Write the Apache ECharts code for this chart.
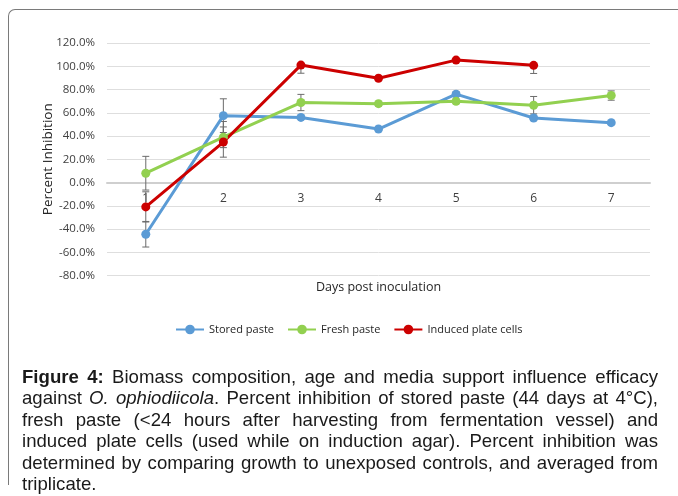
<!DOCTYPE html>
<html>
<head>
<meta charset="utf-8">
<script src="https://cdn.jsdelivr.net/npm/echarts@6/dist/echarts.min.js"></script>
<style>
html,body{margin:0;padding:0;background:#fff;}
#wrap{position:relative;width:678px;height:496px;overflow:hidden;}
#chart{position:absolute;left:0;top:0;width:678px;height:496px;}
#box{position:absolute;left:8px;top:9px;width:720px;height:475px;border-top:1px solid #7a7a7a;border-left:1px solid #7a7a7a;border-top-left-radius:7px;pointer-events:none;}
#cap{position:absolute;left:22px;top:366px;width:636px;font-family:"Liberation Sans",Arial,sans-serif;font-size:18.6px;line-height:21.4px;text-align:justify;color:#1a1a1a;}
</style>
</head>
<body>
<div id="wrap">
<div id="chart"></div>
<div id="box"></div>
<div id="cap"><b>Figure 4:</b> Biomass composition, age and media support influence efficacy against <i>O. ophiodiicola</i>. Percent inhibition of stored paste (44 days at 4°C), fresh paste (&lt;24 hours after harvesting from fermentation vessel) and induced plate cells (used while on induction agar). Percent inhibition was determined by comparing growth to unexposed controls, and averaged from triplicate.</div>
</div>
<script>
// ---- data ----
const categories = ['1','2','3','4','5','6','7'];
const storedPaste  = [-44.5, 57.5, 56.0, 46.0, 76.0, 55.5, 51.5];
const freshPaste   = [8.0, 39.0, 68.8, 67.8, 69.8, 66.5, 74.8];
const inducedCells = [-21.0, 34.8, 101.0, 89.7, 105.3, 100.8, null];
// error bars (plus / minus), percent points
const storedErrPlus   = [11, 14.5, 0, 0, 2, 2, 0];
const storedErrMinus  = [11, 14.5, 0, 0, 2, 2, 0];
const freshErrPlus    = [14.5, 13.5, 7, 2, 2, 7.5, 4];
const freshErrMinus   = [14.5, 9, 7, 2, 2, 7.5, 4];
const inducedErrPlus  = [13, 13, 0, 0, 0, 0, null];
const inducedErrMinus = [13, 13, 7, 0, 0, 7, null];
const yTicks = {min: -80, max: 120, interval: 20};
const seriesNames = ['Stored paste', 'Fresh paste', 'Induced plate cells'];

const colors = ['#5B9BD5', '#92D050', '#CC0000'];
const chart = echarts.init(document.getElementById('chart'), null, {renderer: 'canvas'});

const gridTop = 43, gridBottom = 220.5, H = 496;
const gridH = H - gridTop - gridBottom;
// place x axis at the zero line
const zeroOffset = -gridH * (0 - yTicks.min) / (yTicks.max - yTicks.min);

function errData(vals, plus, minus) {
  const out = [];
  vals.forEach((v, i) => {
    if (v == null) return;
    if (!plus[i] && !minus[i]) return;
    out.push([i, v - (minus[i] || 0), v + (plus[i] || 0), v]);
  });
  return out;
}
function errSeries(data) {
  return {
    type: 'custom',
    z: 1,
    silent: true,
    data: data,
    encode: {x: 0, y: [1, 2]},
    renderItem: function (params, api) {
      const x = api.value(0), lo = api.value(1), hi = api.value(2), mid = api.value(3);
      const pLo = api.coord([x, lo]);
      const pHi = api.coord([x, hi]);
      const hw = 3.5;
      const style = {stroke: '#6b6b6b', lineWidth: 1};
      const children = [
        {type: 'line', shape: {x1: pLo[0], y1: pLo[1], x2: pHi[0], y2: pHi[1]}, style: style}
      ];
      if (hi !== mid) children.push({type: 'line', shape: {x1: pHi[0]-hw, y1: pHi[1], x2: pHi[0]+hw, y2: pHi[1]}, style: style});
      if (lo !== mid) children.push({type: 'line', shape: {x1: pLo[0]-hw, y1: pLo[1], x2: pLo[0]+hw, y2: pLo[1]}, style: style});
      return {type: 'group', children: children};
    }
  };
}
function lineSeries(name, data, color) {
  return {
    name: name, type: 'line', data: data, z: 3,
    symbol: 'circle', symbolSize: 9,
    lineStyle: {width: 3, color: color},
    itemStyle: {color: color},
    emphasis: {disabled: true}
  };
}

const fontF = '"Open Sans", "Segoe UI", sans-serif';
chart.setOption({
  animation: false,
  color: colors,
  grid: {left: 107, right: 28, top: gridTop, bottom: gridBottom},
  legend: {
    data: seriesNames,
    left: 170, top: 319,
    itemWidth: 28, itemHeight: 12, itemGap: 13,
    textStyle: {fontFamily: fontF, fontSize: 11, color: '#262626'}
  },
  xAxis: {
    type: 'category', data: categories, boundaryGap: true,
    position: 'bottom', offset: zeroOffset,
    axisLine: {onZero: false, lineStyle: {color: '#cfcfcf', width: 2}},
    axisTick: {show: false},
    axisLabel: {fontFamily: fontF, fontSize: 12, color: '#404040', margin: 10},
    name: 'Days post inoculation', nameLocation: 'middle', nameGap: 98,
    nameTextStyle: {fontFamily: fontF, fontSize: 12.5, color: '#262626'}
  },
  yAxis: {
    type: 'value', min: yTicks.min, max: yTicks.max, interval: yTicks.interval,
    axisLine: {show: false}, axisTick: {show: false},
    splitLine: {lineStyle: {color: '#dedede', width: 1}},
    axisLabel: {fontFamily: fontF, fontSize: 11.5, color: '#404040', margin: 12,
      formatter: v => v.toFixed(1) + '%'},
    name: 'Percent Inhibition', nameLocation: 'middle', nameGap: 52, nameMoveOverlap: false,
    nameTextStyle: {fontFamily: fontF, fontSize: 13.5, color: '#262626'}
  },
  series: [
    errSeries(errData(storedPaste, storedErrPlus, storedErrMinus)),
    errSeries(errData(freshPaste, freshErrPlus, freshErrMinus)),
    errSeries(errData(inducedCells, inducedErrPlus, inducedErrMinus)),
    lineSeries(seriesNames[0], storedPaste, colors[0]),
    lineSeries(seriesNames[1], freshPaste, colors[1]),
    lineSeries(seriesNames[2], inducedCells, colors[2])
  ]
});
</script>
</body>
</html>
